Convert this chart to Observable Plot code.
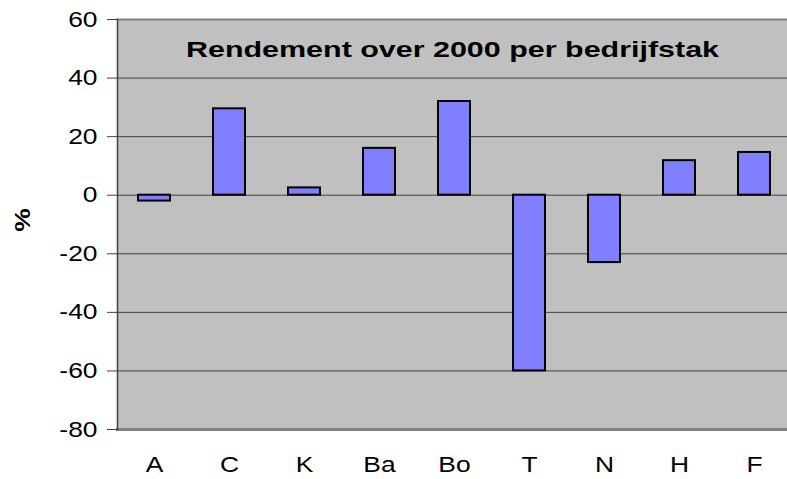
<!DOCTYPE html>
<html>
<head>
<meta charset="utf-8">
<script src="https://cdn.jsdelivr.net/npm/d3@7"></script>
<script src="https://cdn.jsdelivr.net/npm/@observablehq/plot@0.6"></script>
<style>
  html, body { margin: 0; padding: 0; background: #fff; }
  #chart svg { display: block; font-family: Arial, "Liberation Sans", sans-serif; }
</style>
</head>
<body>
<div id="chart"></div>
<script>
const categories = ["A", "C", "K", "Ba", "Bo", "T", "N", "H", "F"];
const values = [-2, 29.5, 2.5, 16, 32, -60, -23, 11.8, 14.6];
const yTicks = [-80, -60, -40, -20, 0, 20, 40, 60];
const title = "Rendement over 2000 per bedrijfstak";
const yLabel = "%";

const data = categories.map((c, i) => ({ cat: c, value: values[i] }));

const chart = Plot.plot({
  width: 787,
  height: 479,
  marginLeft: 117,
  marginRight: 0,
  marginTop: 19,
  marginBottom: 50,
  style: { fontFamily: "Arial, 'Liberation Sans', sans-serif", color: "#000", background: "#fff" },
  x: { domain: categories, range: [116, 792], paddingInner: 0.57, paddingOuter: 0.285, label: null },
  y: { domain: [-80, 60], label: null },
  marks: [
    Plot.frame({ fill: "#c0c0c0", stroke: null }),
    Plot.gridY(yTicks, { stroke: "#404040", strokeOpacity: 1, strokeWidth: 1 }),
    Plot.frame({ anchor: "top", stroke: "#808080", strokeWidth: 2 }),
    Plot.frame({ anchor: "bottom", stroke: "#808080", strokeWidth: 3 }),
    Plot.frame({ anchor: "left", stroke: "#404040", strokeWidth: 1.5 }),
    Plot.barY(data, { x: "cat", y: "value", fill: "#8080ff", stroke: "#000", strokeWidth: 2 }),
    Plot.axisY(yTicks, { tickSize: 10, tickPadding: 10, fontSize: 22, stroke: "#404040", label: null, tickFormat: d => String(d) }),
    Plot.axisX({ tickSize: 0, tickPadding: 27, fontSize: 22, label: null }),
    Plot.text([title], { frameAnchor: "top", dy: 22, fontSize: 22, fontWeight: "bold", fill: "#000" })
  ]
});

document.getElementById("chart").appendChild(chart);

const svg = d3.select(chart);
// widen axis labels horizontally to match the reference rendering
svg.selectAll("g[aria-label='y-axis tick label'] text, g[aria-label='x-axis tick label'] text")
  .each(function () {
    const t = this.getAttribute("transform") || "";
    this.setAttribute("transform", t + " scale(1.2,1)");
  });
// stretch title to match reference width
svg.selectAll("g[aria-label='text'] text")
  .attr("textLength", 533)
  .attr("lengthAdjust", "spacingAndGlyphs");

// rotated y-axis label "%"
svg.append("text")
  .attr("transform", "translate(30,220) rotate(-90) scale(1.2,1)")
  .attr("text-anchor", "middle")
  .attr("font-size", 22)
  .attr("font-weight", "bold")
  .attr("fill", "#000")
  .text(yLabel);
</script>
</body>
</html>
